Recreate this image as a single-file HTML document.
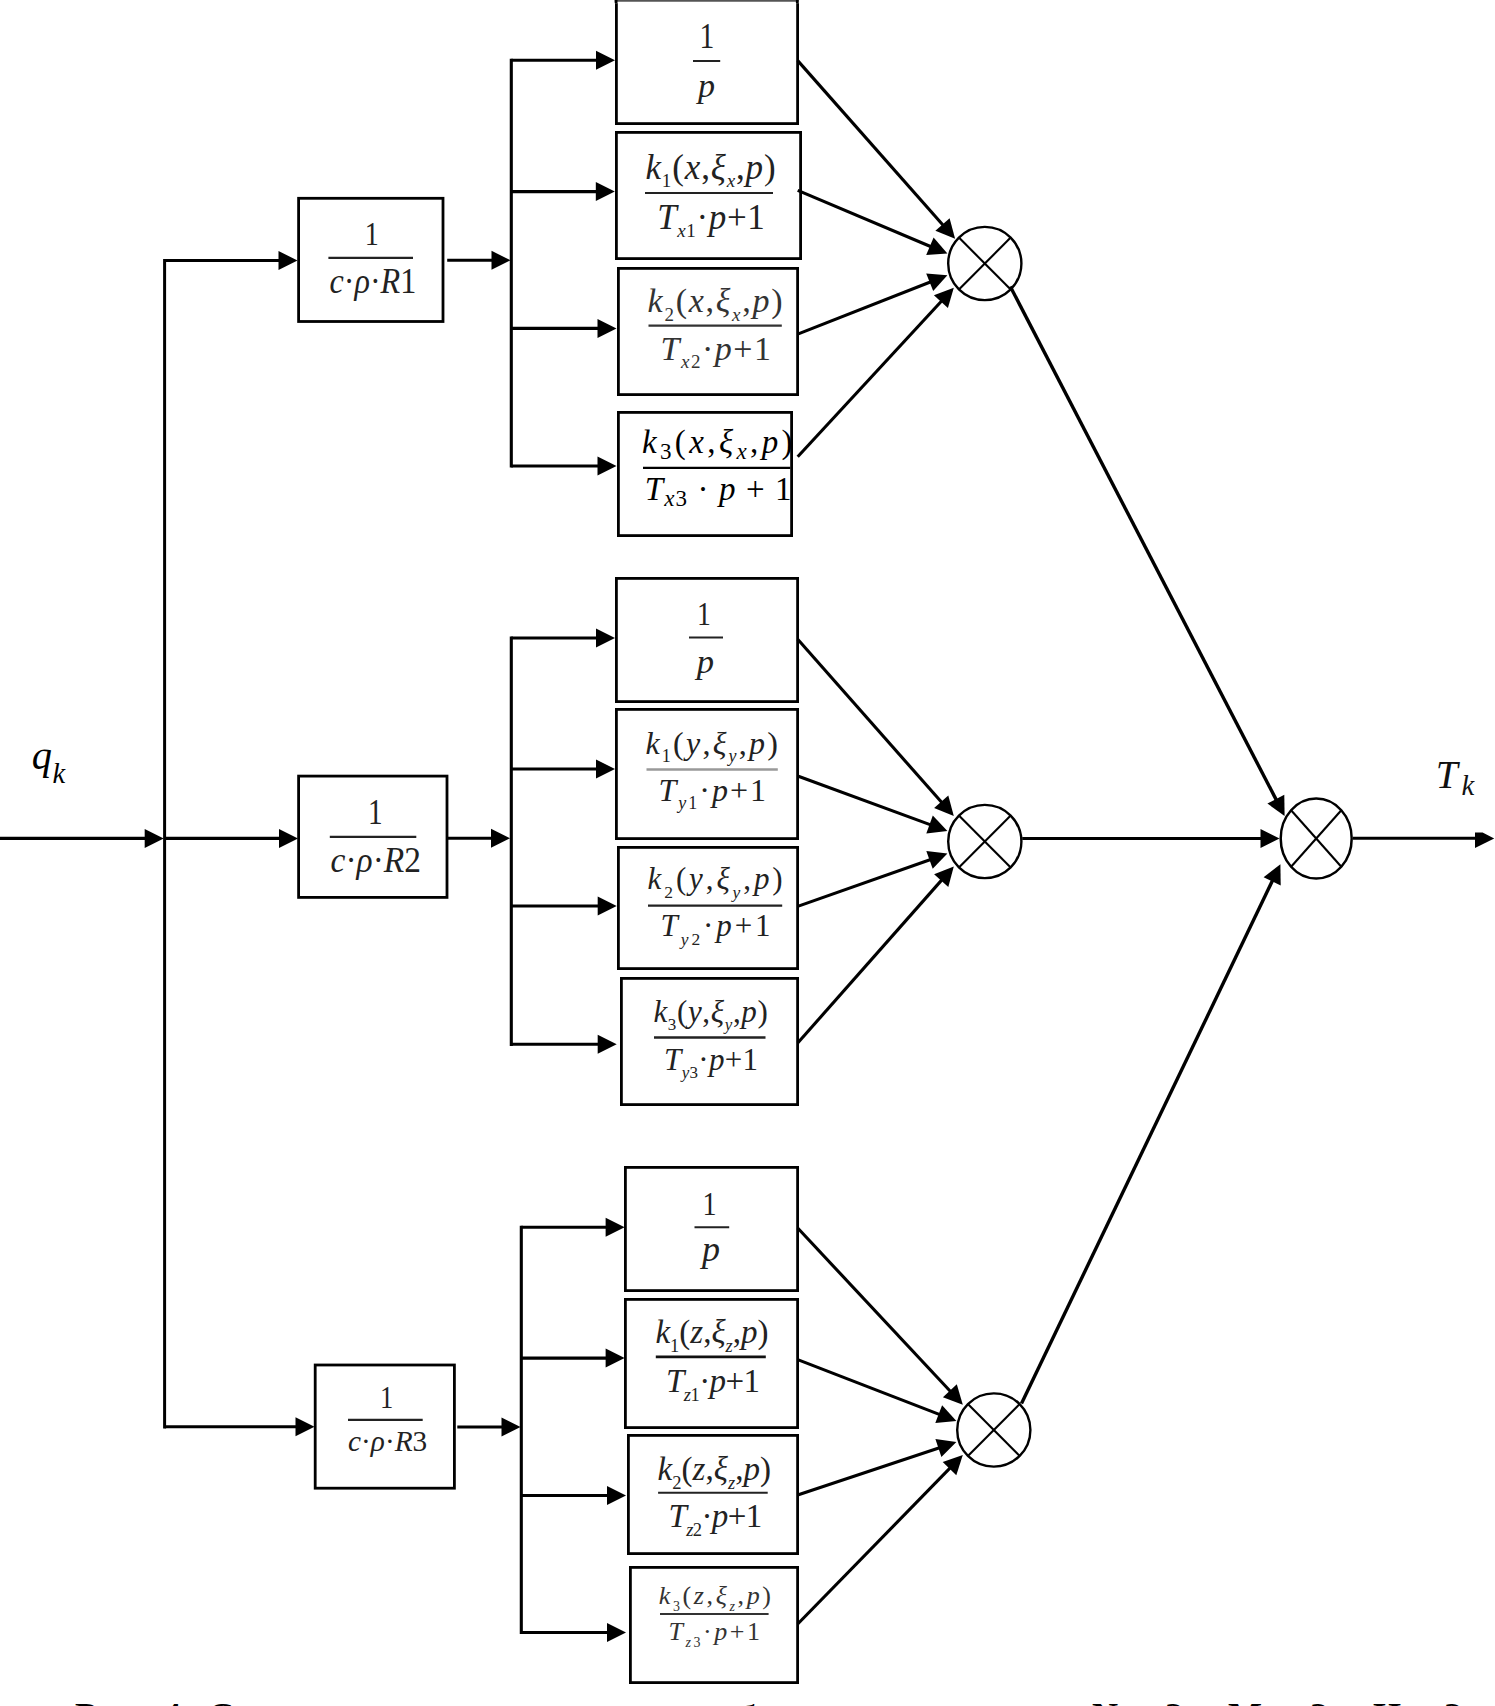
<!DOCTYPE html>
<html><head><meta charset="utf-8"><title>Block diagram</title>
<style>
html,body{margin:0;padding:0;background:#fff;}
svg{display:block;}
</style></head>
<body>
<svg width="1495" height="1706" viewBox="0 0 1495 1706" stroke="#000" fill="#000">
<rect x="0" y="0" width="1495" height="1706" fill="#fff" stroke="none"/>
<g stroke="#000" fill="#000" stroke-linecap="butt">
<line x1="0.0" y1="838.4" x2="146.7" y2="838.4" stroke-width="3.1"/>
<polygon points="163.7,838.4 144.7,847.9 144.7,828.9" stroke="none"/>
<line x1="164.6" y1="259.0" x2="164.6" y2="1428.5" stroke-width="3.0"/>
<line x1="164.6" y1="260.5" x2="280.5" y2="260.5" stroke-width="3.1"/>
<polygon points="297.5,260.5 278.5,270.0 278.5,251.0" stroke="none"/>
<line x1="164.6" y1="838.4" x2="281.0" y2="838.4" stroke-width="3.1"/>
<polygon points="298.0,838.4 279.0,847.9 279.0,828.9" stroke="none"/>
<line x1="164.6" y1="1426.7" x2="297.5" y2="1426.7" stroke-width="3.1"/>
<polygon points="314.5,1426.7 295.5,1436.2 295.5,1417.2" stroke="none"/>
<rect x="298.6" y="198.3" width="144.4" height="123.2" fill="none" stroke-width="2.8"/>
<rect x="298.6" y="776.1" width="148.4" height="121.3" fill="none" stroke-width="2.8"/>
<rect x="315.2" y="1365.0" width="139.2" height="123.2" fill="none" stroke-width="2.8"/>
<line x1="447.2" y1="260.3" x2="493.5" y2="260.3" stroke-width="3.1"/>
<polygon points="510.5,260.3 491.5,269.8 491.5,250.8" stroke="none"/>
<line x1="448.0" y1="838.3" x2="493.0" y2="838.3" stroke-width="3.1"/>
<polygon points="510.0,838.3 491.0,847.8 491.0,828.8" stroke="none"/>
<line x1="457.3" y1="1427.0" x2="503.5" y2="1427.0" stroke-width="3.1"/>
<polygon points="520.5,1427.0 501.5,1436.5 501.5,1417.5" stroke="none"/>
<text stroke="none" x="364.7" y="244.8" textLength="14.1" lengthAdjust="spacingAndGlyphs" font-family="Liberation Serif" font-size="34.5" font-style="normal" fill="#222">1</text>
<line x1="328.4" y1="257.8" x2="413.0" y2="257.8" stroke="#222" stroke-width="2.2"/>
<text stroke="none" x="329.5" y="293.0" textLength="86.8" lengthAdjust="spacingAndGlyphs" font-family="Liberation Serif" fill="#222" xml:space="preserve"><tspan font-size="35.0" font-style="italic" dy="0.0">c</tspan><tspan font-size="35.0" font-style="normal" dy="0.0">·</tspan><tspan font-size="35.0" font-style="italic" dy="0.0">ρ</tspan><tspan font-size="35.0" font-style="normal" dy="0.0">·</tspan><tspan font-size="35.0" font-style="italic" dy="0.0">R</tspan><tspan font-size="35.0" font-style="normal" dy="0.0">1</tspan></text>
<text stroke="none" x="368.0" y="823.5" textLength="14.6" lengthAdjust="spacingAndGlyphs" font-family="Liberation Serif" font-size="35.5" font-style="normal" fill="#222">1</text>
<line x1="329.8" y1="836.8" x2="416.3" y2="836.8" stroke="#222" stroke-width="2.2"/>
<text stroke="none" x="330.6" y="872.4" textLength="90.4" lengthAdjust="spacingAndGlyphs" font-family="Liberation Serif" fill="#222" xml:space="preserve"><tspan font-size="35.0" font-style="italic" dy="0.0">c</tspan><tspan font-size="35.0" font-style="normal" dy="0.0">·</tspan><tspan font-size="35.0" font-style="italic" dy="0.0">ρ</tspan><tspan font-size="35.0" font-style="normal" dy="0.0">·</tspan><tspan font-size="35.0" font-style="italic" dy="0.0">R</tspan><tspan font-size="35.0" font-style="normal" dy="0.0">2</tspan></text>
<text stroke="none" x="379.9" y="1408.3" textLength="13.3" lengthAdjust="spacingAndGlyphs" font-family="Liberation Serif" font-size="32.5" font-style="normal" fill="#222">1</text>
<line x1="348.0" y1="1419.9" x2="422.7" y2="1419.9" stroke="#222" stroke-width="2.2"/>
<text stroke="none" x="348.1" y="1451.0" textLength="79.1" lengthAdjust="spacingAndGlyphs" font-family="Liberation Serif" fill="#222" xml:space="preserve"><tspan font-size="29.5" font-style="italic" dy="0.0">c</tspan><tspan font-size="29.5" font-style="normal" dy="0.0">·</tspan><tspan font-size="29.5" font-style="italic" dy="0.0">ρ</tspan><tspan font-size="29.5" font-style="normal" dy="0.0">·</tspan><tspan font-size="29.5" font-style="italic" dy="0.0">R</tspan><tspan font-size="29.5" font-style="normal" dy="0.0">3</tspan></text>
<line x1="511.3" y1="58.7" x2="511.3" y2="467.6" stroke-width="3.1"/>
<line x1="511.3" y1="60.3" x2="598.0" y2="60.3" stroke-width="3.1"/>
<polygon points="615.0,60.3 596.0,69.8 596.0,50.8" stroke="none"/>
<line x1="511.3" y1="191.6" x2="597.8" y2="191.6" stroke-width="3.1"/>
<polygon points="614.8,191.6 595.8,201.1 595.8,182.1" stroke="none"/>
<line x1="511.3" y1="328.4" x2="599.5" y2="328.4" stroke-width="3.1"/>
<polygon points="616.5,328.4 597.5,337.9 597.5,318.9" stroke="none"/>
<line x1="511.3" y1="466.0" x2="599.5" y2="466.0" stroke-width="3.1"/>
<polygon points="616.5,466.0 597.5,475.5 597.5,456.5" stroke="none"/>
<rect x="616.4" y="1.4" width="181.2" height="122.2" fill="none" stroke-width="2.8"/>
<rect x="616.4" y="132.4" width="184.2" height="126.2" fill="none" stroke-width="2.8"/>
<rect x="618.4" y="268.4" width="179.2" height="126.2" fill="none" stroke-width="2.8"/>
<rect x="618.4" y="412.4" width="173.2" height="123.2" fill="none" stroke-width="2.8"/>
<line x1="797.7" y1="60.6" x2="943.8" y2="226.0" stroke-width="3.1"/>
<polygon points="955.1,238.7 935.4,230.8 949.6,218.2" stroke="none"/>
<line x1="797.7" y1="190.4" x2="931.7" y2="247.0" stroke-width="3.1"/>
<polygon points="947.4,253.6 926.2,255.0 933.6,237.5" stroke="none"/>
<line x1="797.7" y1="334.1" x2="931.6" y2="281.5" stroke-width="3.1"/>
<polygon points="947.4,275.3 933.2,291.1 926.2,273.4" stroke="none"/>
<line x1="797.7" y1="456.7" x2="942.3" y2="300.2" stroke-width="3.1"/>
<polygon points="953.8,287.7 947.9,308.1 933.9,295.2" stroke="none"/>
<ellipse cx="984.8" cy="263.5" rx="36.6" ry="36.6" fill="none" stroke-width="2.4"/>
<line x1="958.9" y1="237.6" x2="1010.7" y2="289.4" stroke-width="2.1"/>
<line x1="1010.7" y1="237.6" x2="958.9" y2="289.4" stroke-width="2.1"/>
<line x1="511.3" y1="636.4" x2="511.3" y2="1045.9" stroke-width="3.1"/>
<line x1="511.3" y1="638.0" x2="598.0" y2="638.0" stroke-width="3.1"/>
<polygon points="615.0,638.0 596.0,647.5 596.0,628.5" stroke="none"/>
<line x1="511.3" y1="769.0" x2="598.0" y2="769.0" stroke-width="3.1"/>
<polygon points="615.0,769.0 596.0,778.5 596.0,759.5" stroke="none"/>
<line x1="511.3" y1="906.0" x2="599.7" y2="906.0" stroke-width="3.1"/>
<polygon points="616.7,906.0 597.7,915.5 597.7,896.5" stroke="none"/>
<line x1="511.3" y1="1044.3" x2="599.7" y2="1044.3" stroke-width="3.1"/>
<polygon points="616.7,1044.3 597.7,1053.8 597.7,1034.8" stroke="none"/>
<rect x="616.4" y="578.4" width="181.2" height="123.2" fill="none" stroke-width="2.8"/>
<rect x="616.4" y="709.4" width="181.2" height="129.2" fill="none" stroke-width="2.8"/>
<rect x="618.4" y="847.4" width="179.2" height="121.2" fill="none" stroke-width="2.8"/>
<rect x="621.4" y="978.4" width="176.2" height="126.2" fill="none" stroke-width="2.8"/>
<line x1="797.7" y1="639.3" x2="942.5" y2="803.3" stroke-width="3.1"/>
<polygon points="953.8,816.0 934.1,808.1 948.3,795.5" stroke="none"/>
<line x1="797.7" y1="776.0" x2="931.4" y2="825.1" stroke-width="3.1"/>
<polygon points="947.4,831.0 926.3,833.4 932.8,815.5" stroke="none"/>
<line x1="797.7" y1="906.4" x2="931.4" y2="859.2" stroke-width="3.1"/>
<polygon points="947.4,853.5 932.7,868.8 926.3,850.9" stroke="none"/>
<line x1="797.7" y1="1043.0" x2="942.5" y2="879.1" stroke-width="3.1"/>
<polygon points="953.8,866.4 948.3,886.9 934.1,874.3" stroke="none"/>
<ellipse cx="984.8" cy="841.5" rx="36.6" ry="36.6" fill="none" stroke-width="2.4"/>
<line x1="958.9" y1="815.6" x2="1010.7" y2="867.4" stroke-width="2.1"/>
<line x1="1010.7" y1="815.6" x2="958.9" y2="867.4" stroke-width="2.1"/>
<line x1="521.3" y1="1225.7" x2="521.3" y2="1634.1" stroke-width="3.1"/>
<line x1="521.3" y1="1227.3" x2="607.6" y2="1227.3" stroke-width="3.1"/>
<polygon points="624.6,1227.3 605.6,1236.8 605.6,1217.8" stroke="none"/>
<line x1="521.3" y1="1358.1" x2="607.6" y2="1358.1" stroke-width="3.1"/>
<polygon points="624.6,1358.1 605.6,1367.6 605.6,1348.6" stroke="none"/>
<line x1="521.3" y1="1495.5" x2="609.0" y2="1495.5" stroke-width="3.1"/>
<polygon points="626.0,1495.5 607.0,1505.0 607.0,1486.0" stroke="none"/>
<line x1="521.3" y1="1632.5" x2="609.0" y2="1632.5" stroke-width="3.1"/>
<polygon points="626.0,1632.5 607.0,1642.0 607.0,1623.0" stroke="none"/>
<rect x="625.4" y="1167.4" width="172.2" height="123.2" fill="none" stroke-width="2.8"/>
<rect x="625.4" y="1299.4" width="172.2" height="128.2" fill="none" stroke-width="2.8"/>
<rect x="628.4" y="1435.4" width="169.2" height="118.2" fill="none" stroke-width="2.8"/>
<rect x="630.4" y="1567.4" width="167.2" height="115.2" fill="none" stroke-width="2.8"/>
<line x1="797.7" y1="1228.0" x2="951.2" y2="1392.3" stroke-width="3.1"/>
<polygon points="962.8,1404.7 942.9,1397.3 956.8,1384.3" stroke="none"/>
<line x1="797.7" y1="1359.6" x2="940.5" y2="1414.9" stroke-width="3.1"/>
<polygon points="956.4,1421.0 935.3,1423.0 942.1,1405.3" stroke="none"/>
<line x1="797.7" y1="1495.0" x2="940.3" y2="1447.5" stroke-width="3.1"/>
<polygon points="956.4,1442.1 941.4,1457.1 935.4,1439.1" stroke="none"/>
<line x1="797.7" y1="1624.0" x2="950.9" y2="1467.2" stroke-width="3.1"/>
<polygon points="962.8,1455.0 956.3,1475.2 942.7,1462.0" stroke="none"/>
<ellipse cx="993.8" cy="1430.0" rx="36.6" ry="36.6" fill="none" stroke-width="2.4"/>
<line x1="967.9" y1="1404.1" x2="1019.7" y2="1455.9" stroke-width="2.1"/>
<line x1="1019.7" y1="1404.1" x2="967.9" y2="1455.9" stroke-width="2.1"/>
<rect x="614" y="0" width="186" height="3.2" fill="#fff" stroke="none"/>
<line x1="614.7" y1="0.9" x2="798.7" y2="0.9" stroke="#555" stroke-width="1.8"/>
<line x1="616.1" y1="0" x2="616.1" y2="3.2" stroke-width="2.8"/>
<line x1="797.3" y1="0" x2="797.3" y2="3.2" stroke-width="2.8"/>
<text stroke="none" x="699.4" y="48.4" textLength="14.8" lengthAdjust="spacingAndGlyphs" font-family="Liberation Serif" font-size="36" font-style="normal" fill="#222">1</text>
<line x1="693.0" y1="61.0" x2="720.2" y2="61.0" stroke="#222" stroke-width="2.0"/>
<text stroke="none" x="706.4" y="97.3" text-anchor="middle" font-family="Liberation Serif" font-size="34" font-style="italic" font-weight="normal" fill="#222">p</text>
<text stroke="none" x="697.0" y="625.3" textLength="13.9" lengthAdjust="spacingAndGlyphs" font-family="Liberation Serif" font-size="34" font-style="normal" fill="#222">1</text>
<line x1="689.0" y1="637.5" x2="723.0" y2="637.5" stroke="#222" stroke-width="2.0"/>
<text stroke="none" x="705.4" y="672.6" text-anchor="middle" font-family="Liberation Serif" font-size="34.5" font-style="italic" font-weight="normal" fill="#222">p</text>
<text stroke="none" x="702.4" y="1214.8" textLength="14.1" lengthAdjust="spacingAndGlyphs" font-family="Liberation Serif" font-size="34.5" font-style="normal" fill="#222">1</text>
<line x1="694.5" y1="1227.3" x2="729.2" y2="1227.3" stroke="#222" stroke-width="2.0"/>
<text stroke="none" x="711.0" y="1261.3" text-anchor="middle" font-family="Liberation Serif" font-size="36" font-style="italic" font-weight="normal" fill="#222">p</text>
<text stroke="none" x="645.4" y="178.5" textLength="130.2" lengthAdjust="spacing" font-family="Liberation Serif" fill="#222" xml:space="preserve"><tspan font-size="35.0" font-style="italic" dy="0.0">k</tspan><tspan font-size="19.0" font-style="normal" dy="8.5">1</tspan><tspan font-size="35.0" font-style="normal" dy="-8.5">(</tspan><tspan font-size="35.0" font-style="italic" dy="0.0">x</tspan><tspan font-size="35.0" font-style="normal" dy="0.0">,</tspan><tspan font-size="35.0" font-style="italic" dy="0.0">ξ</tspan><tspan font-size="19.0" font-style="italic" dy="8.5">x</tspan><tspan font-size="35.0" font-style="normal" dy="-8.5">,</tspan><tspan font-size="35.0" font-style="italic" dy="0.0">p</tspan><tspan font-size="35.0" font-style="normal" dy="0.0">)</tspan></text>
<line x1="645.0" y1="193.0" x2="773.0" y2="193.0" stroke="#222" stroke-width="2.1"/>
<text stroke="none" x="657.2" y="228.8" textLength="107.6" lengthAdjust="spacing" font-family="Liberation Serif" fill="#222" xml:space="preserve"><tspan font-size="35.0" font-style="italic" dy="0.0">T</tspan><tspan font-size="19.0" font-style="italic" dy="8.5">x</tspan><tspan font-size="19.0" font-style="normal" dy="0.0">1</tspan><tspan font-size="35.0" font-style="normal" dy="-8.5">·</tspan><tspan font-size="35.0" font-style="italic" dy="0.0">p</tspan><tspan font-size="35.0" font-style="normal" dy="0.0">+1</tspan></text>
<text stroke="none" x="647.6" y="312.0" textLength="135.0" lengthAdjust="spacing" font-family="Liberation Serif" fill="#333" xml:space="preserve"><tspan font-size="34.0" font-style="italic" dy="0.0">k</tspan><tspan font-size="19.0" font-style="normal" dy="8.5">2</tspan><tspan font-size="34.0" font-style="normal" dy="-8.5">(</tspan><tspan font-size="34.0" font-style="italic" dy="0.0">x</tspan><tspan font-size="34.0" font-style="normal" dy="0.0">,</tspan><tspan font-size="34.0" font-style="italic" dy="0.0">ξ</tspan><tspan font-size="19.0" font-style="italic" dy="8.5">x</tspan><tspan font-size="34.0" font-style="normal" dy="-8.5">,</tspan><tspan font-size="34.0" font-style="italic" dy="0.0">p</tspan><tspan font-size="34.0" font-style="normal" dy="0.0">)</tspan></text>
<line x1="648.5" y1="325.6" x2="781.8" y2="325.6" stroke="#333" stroke-width="2.2"/>
<text stroke="none" x="660.6" y="359.7" textLength="110.4" lengthAdjust="spacing" font-family="Liberation Serif" fill="#333" xml:space="preserve"><tspan font-size="34.0" font-style="italic" dy="0.0">T</tspan><tspan font-size="19.0" font-style="italic" dy="8.5">x</tspan><tspan font-size="19.0" font-style="normal" dy="0.0">2</tspan><tspan font-size="34.0" font-style="normal" dy="-8.5">·</tspan><tspan font-size="34.0" font-style="italic" dy="0.0">p</tspan><tspan font-size="34.0" font-style="normal" dy="0.0">+1</tspan></text>
<text stroke="none" x="641.9" y="452.5" textLength="150.7" lengthAdjust="spacing" font-family="Liberation Serif" fill="#000" xml:space="preserve"><tspan font-size="33.0" font-style="italic" dy="0.0">k</tspan><tspan font-size="23.0" font-style="normal" dy="6.3">3</tspan><tspan font-size="33.0" font-style="normal" dy="-6.3">(</tspan><tspan font-size="33.0" font-style="italic" dy="0.0">x</tspan><tspan font-size="33.0" font-style="normal" dy="0.0">,</tspan><tspan font-size="33.0" font-style="italic" dy="0.0">ξ</tspan><tspan font-size="23.0" font-style="italic" dy="6.3">x</tspan><tspan font-size="33.0" font-style="normal" dy="-6.3">,</tspan><tspan font-size="33.0" font-style="italic" dy="0.0">p</tspan><tspan font-size="33.0" font-style="normal" dy="0.0">)</tspan></text>
<line x1="643.0" y1="467.8" x2="790.3" y2="467.8" stroke="#000" stroke-width="2.3"/>
<text stroke="none" x="644.8" y="499.7" textLength="146.8" lengthAdjust="spacing" font-family="Liberation Serif" fill="#000" xml:space="preserve"><tspan font-size="33.0" font-style="italic" dy="0.0">T</tspan><tspan font-size="23.0" font-style="italic" dy="6.3">x</tspan><tspan font-size="23.0" font-style="normal" dy="0.0">3</tspan><tspan font-size="33.0" font-style="normal" dy="-6.3"> · </tspan><tspan font-size="33.0" font-style="italic" dy="0.0">p</tspan><tspan font-size="33.0" font-style="normal" dy="0.0"> + 1</tspan></text>
<text stroke="none" x="645.4" y="753.5" textLength="132.6" lengthAdjust="spacing" font-family="Liberation Serif" fill="#222" xml:space="preserve"><tspan font-size="32.0" font-style="italic" dy="0.0">k</tspan><tspan font-size="18.0" font-style="normal" dy="8.0">1</tspan><tspan font-size="32.0" font-style="normal" dy="-8.0">(</tspan><tspan font-size="32.0" font-style="italic" dy="0.0">y</tspan><tspan font-size="32.0" font-style="normal" dy="0.0">,</tspan><tspan font-size="32.0" font-style="italic" dy="0.0">ξ</tspan><tspan font-size="18.0" font-style="italic" dy="8.0">y</tspan><tspan font-size="32.0" font-style="normal" dy="-8.0">,</tspan><tspan font-size="32.0" font-style="italic" dy="0.0">p</tspan><tspan font-size="32.0" font-style="normal" dy="0.0">)</tspan></text>
<line x1="646.5" y1="769.5" x2="777.8" y2="769.5" stroke="#999" stroke-width="2.4"/>
<text stroke="none" x="658.4" y="800.7" textLength="107.6" lengthAdjust="spacing" font-family="Liberation Serif" fill="#222" xml:space="preserve"><tspan font-size="32.0" font-style="italic" dy="0.0">T</tspan><tspan font-size="18.0" font-style="italic" dy="8.0">y</tspan><tspan font-size="18.0" font-style="normal" dy="0.0">1</tspan><tspan font-size="32.0" font-style="normal" dy="-8.0">·</tspan><tspan font-size="32.0" font-style="italic" dy="0.0">p</tspan><tspan font-size="32.0" font-style="normal" dy="0.0">+1</tspan></text>
<text stroke="none" x="647.6" y="889.1" textLength="135.0" lengthAdjust="spacing" font-family="Liberation Serif" fill="#222" xml:space="preserve"><tspan font-size="31.0" font-style="italic" dy="0.0">k</tspan><tspan font-size="17.5" font-style="normal" dy="8.5">2</tspan><tspan font-size="31.0" font-style="normal" dy="-8.5">(</tspan><tspan font-size="31.0" font-style="italic" dy="0.0">y</tspan><tspan font-size="31.0" font-style="normal" dy="0.0">,</tspan><tspan font-size="31.0" font-style="italic" dy="0.0">ξ</tspan><tspan font-size="17.5" font-style="italic" dy="8.5">y</tspan><tspan font-size="31.0" font-style="normal" dy="-8.5">,</tspan><tspan font-size="31.0" font-style="italic" dy="0.0">p</tspan><tspan font-size="31.0" font-style="normal" dy="0.0">)</tspan></text>
<line x1="648.0" y1="905.6" x2="782.2" y2="905.6" stroke="#222" stroke-width="2.2"/>
<text stroke="none" x="660.6" y="936.3" textLength="109.9" lengthAdjust="spacing" font-family="Liberation Serif" fill="#222" xml:space="preserve"><tspan font-size="31.0" font-style="italic" dy="0.0">T</tspan><tspan font-size="17.5" font-style="italic" dy="8.5">y</tspan><tspan font-size="17.5" font-style="normal" dy="0.0">2</tspan><tspan font-size="31.0" font-style="normal" dy="-8.5">·</tspan><tspan font-size="31.0" font-style="italic" dy="0.0">p</tspan><tspan font-size="31.0" font-style="normal" dy="0.0">+1</tspan></text>
<text stroke="none" x="653.4" y="1022.3" textLength="114.4" lengthAdjust="spacing" font-family="Liberation Serif" fill="#222" xml:space="preserve"><tspan font-size="31.0" font-style="italic" dy="0.0">k</tspan><tspan font-size="17.0" font-style="normal" dy="8.0">3</tspan><tspan font-size="31.0" font-style="normal" dy="-8.0">(</tspan><tspan font-size="31.0" font-style="italic" dy="0.0">y</tspan><tspan font-size="31.0" font-style="normal" dy="0.0">,</tspan><tspan font-size="31.0" font-style="italic" dy="0.0">ξ</tspan><tspan font-size="17.0" font-style="italic" dy="8.0">y</tspan><tspan font-size="31.0" font-style="normal" dy="-8.0">,</tspan><tspan font-size="31.0" font-style="italic" dy="0.0">p</tspan><tspan font-size="31.0" font-style="normal" dy="0.0">)</tspan></text>
<line x1="654.0" y1="1037.5" x2="765.5" y2="1037.5" stroke="#222" stroke-width="2.4"/>
<text stroke="none" x="664.1" y="1069.6" textLength="93.9" lengthAdjust="spacing" font-family="Liberation Serif" fill="#222" xml:space="preserve"><tspan font-size="31.0" font-style="italic" dy="0.0">T</tspan><tspan font-size="17.0" font-style="italic" dy="8.0">y</tspan><tspan font-size="17.0" font-style="normal" dy="0.0">3</tspan><tspan font-size="31.0" font-style="normal" dy="-8.0">·</tspan><tspan font-size="31.0" font-style="italic" dy="0.0">p</tspan><tspan font-size="31.0" font-style="normal" dy="0.0">+1</tspan></text>
<text stroke="none" x="655.4" y="1343.2" textLength="113.2" lengthAdjust="spacing" font-family="Liberation Serif" fill="#222" xml:space="preserve"><tspan font-size="33.0" font-style="italic" dy="0.0">k</tspan><tspan font-size="18.5" font-style="normal" dy="9.0">1</tspan><tspan font-size="33.0" font-style="normal" dy="-9.0">(</tspan><tspan font-size="33.0" font-style="italic" dy="0.0">z</tspan><tspan font-size="33.0" font-style="normal" dy="0.0">,</tspan><tspan font-size="33.0" font-style="italic" dy="0.0">ξ</tspan><tspan font-size="18.5" font-style="italic" dy="9.0">z</tspan><tspan font-size="33.0" font-style="normal" dy="-9.0">,</tspan><tspan font-size="33.0" font-style="italic" dy="0.0">p</tspan><tspan font-size="33.0" font-style="normal" dy="0.0">)</tspan></text>
<line x1="655.8" y1="1356.8" x2="765.8" y2="1356.8" stroke="#111" stroke-width="2.8"/>
<text stroke="none" x="666.1" y="1391.5" textLength="93.9" lengthAdjust="spacing" font-family="Liberation Serif" fill="#222" xml:space="preserve"><tspan font-size="33.0" font-style="italic" dy="0.0">T</tspan><tspan font-size="18.5" font-style="italic" dy="9.0">z</tspan><tspan font-size="18.5" font-style="normal" dy="0.0">1</tspan><tspan font-size="33.0" font-style="normal" dy="-9.0">·</tspan><tspan font-size="33.0" font-style="italic" dy="0.0">p</tspan><tspan font-size="33.0" font-style="normal" dy="0.0">+1</tspan></text>
<text stroke="none" x="657.6" y="1479.6" textLength="113.4" lengthAdjust="spacing" font-family="Liberation Serif" fill="#222" xml:space="preserve"><tspan font-size="33.0" font-style="italic" dy="0.0">k</tspan><tspan font-size="18.5" font-style="normal" dy="9.0">2</tspan><tspan font-size="33.0" font-style="normal" dy="-9.0">(</tspan><tspan font-size="33.0" font-style="italic" dy="0.0">z</tspan><tspan font-size="33.0" font-style="normal" dy="0.0">,</tspan><tspan font-size="33.0" font-style="italic" dy="0.0">ξ</tspan><tspan font-size="18.5" font-style="italic" dy="9.0">z</tspan><tspan font-size="33.0" font-style="normal" dy="-9.0">,</tspan><tspan font-size="33.0" font-style="italic" dy="0.0">p</tspan><tspan font-size="33.0" font-style="normal" dy="0.0">)</tspan></text>
<line x1="658.1" y1="1492.8" x2="767.7" y2="1492.8" stroke="#222" stroke-width="2.0"/>
<text stroke="none" x="668.4" y="1526.5" textLength="93.9" lengthAdjust="spacing" font-family="Liberation Serif" fill="#222" xml:space="preserve"><tspan font-size="33.0" font-style="italic" dy="0.0">T</tspan><tspan font-size="18.5" font-style="italic" dy="9.0">z</tspan><tspan font-size="18.5" font-style="normal" dy="0.0">2</tspan><tspan font-size="33.0" font-style="normal" dy="-9.0">·</tspan><tspan font-size="33.0" font-style="italic" dy="0.0">p</tspan><tspan font-size="33.0" font-style="normal" dy="0.0">+1</tspan></text>
<text stroke="none" x="658.7" y="1604.0" textLength="112.3" lengthAdjust="spacing" font-family="Liberation Serif" fill="#333" xml:space="preserve"><tspan font-size="26.0" font-style="italic" dy="0.0">k</tspan><tspan font-size="14.0" font-style="normal" dy="7.0">3</tspan><tspan font-size="26.0" font-style="normal" dy="-7.0">(</tspan><tspan font-size="26.0" font-style="italic" dy="0.0">z</tspan><tspan font-size="26.0" font-style="normal" dy="0.0">,</tspan><tspan font-size="26.0" font-style="italic" dy="0.0">ξ</tspan><tspan font-size="14.0" font-style="italic" dy="7.0">z</tspan><tspan font-size="26.0" font-style="normal" dy="-7.0">,</tspan><tspan font-size="26.0" font-style="italic" dy="0.0">p</tspan><tspan font-size="26.0" font-style="normal" dy="0.0">)</tspan></text>
<line x1="660.0" y1="1613.9" x2="768.6" y2="1613.9" stroke="#333" stroke-width="2.0"/>
<text stroke="none" x="668.4" y="1639.6" textLength="91.6" lengthAdjust="spacing" font-family="Liberation Serif" fill="#333" xml:space="preserve"><tspan font-size="26.0" font-style="italic" dy="0.0">T</tspan><tspan font-size="14.0" font-style="italic" dy="7.0">z</tspan><tspan font-size="14.0" font-style="normal" dy="0.0">3</tspan><tspan font-size="26.0" font-style="normal" dy="-7.0">·</tspan><tspan font-size="26.0" font-style="italic" dy="0.0">p</tspan><tspan font-size="26.0" font-style="normal" dy="0.0">+1</tspan></text>
<ellipse cx="1316.2" cy="838.5" rx="35.5" ry="40.0" fill="none" stroke-width="2.5"/>
<line x1="1291.1" y1="810.2" x2="1341.3" y2="866.8" stroke-width="2.1"/>
<line x1="1341.3" y1="810.2" x2="1291.1" y2="866.8" stroke-width="2.1"/>
<line x1="1010.3" y1="286.5" x2="1276.8" y2="800.9" stroke-width="3.4"/>
<polygon points="1284.6,816.0 1267.4,803.5 1284.3,794.8" stroke="none"/>
<line x1="1022.2" y1="838.5" x2="1262.5" y2="838.5" stroke-width="3.1"/>
<polygon points="1279.5,838.5 1260.5,848.0 1260.5,829.0" stroke="none"/>
<line x1="1021.5" y1="1403.4" x2="1273.0" y2="879.6" stroke-width="3.4"/>
<polygon points="1280.4,864.3 1280.7,885.5 1263.6,877.3" stroke="none"/>
<line x1="1353.0" y1="838.3" x2="1477.0" y2="838.3" stroke-width="3.1"/>
<polygon points="1475,832.6 1482.6,832.6 1494.2,838.6 1475,848.1" stroke="none"/>
<text stroke="none" x="31.8" y="768.8" font-family="Liberation Serif" font-style="italic" font-size="40.4" fill="#000">q</text>
<text stroke="none" x="52.4" y="782.6" font-family="Liberation Serif" font-style="italic" font-size="28.5" fill="#000">k</text>
<text stroke="none" x="1435.7" y="787.6" font-family="Liberation Serif" font-style="italic" font-size="39.4" fill="#111">T</text>
<text stroke="none" x="1461.5" y="795.2" font-family="Liberation Serif" font-style="italic" font-size="28.7" fill="#111">k</text>
<text stroke="none" x="75" y="1728.3" font-family="Liberation Serif" font-weight="bold" font-size="36" fill="#000">Р</text>
<text stroke="none" x="163" y="1728.3" font-family="Liberation Serif" font-weight="bold" font-size="36" fill="#000">4</text>
<text stroke="none" x="208" y="1728.3" font-family="Liberation Serif" font-weight="bold" font-size="36" fill="#000">С</text>
<text stroke="none" x="738" y="1730.3" font-family="Liberation Serif" font-weight="bold" font-size="36" fill="#000">б</text>
<text stroke="none" x="1092" y="1728.3" font-family="Liberation Serif" font-weight="bold" font-size="36" fill="#000">N</text>
<text stroke="none" x="1165" y="1728.3" font-family="Liberation Serif" font-weight="bold" font-size="36" fill="#000">2</text>
<text stroke="none" x="1228" y="1728.3" font-family="Liberation Serif" font-weight="bold" font-size="36" fill="#000">M</text>
<text stroke="none" x="1310" y="1728.3" font-family="Liberation Serif" font-weight="bold" font-size="36" fill="#000">2</text>
<text stroke="none" x="1373" y="1728.3" font-family="Liberation Serif" font-weight="bold" font-size="36" fill="#000">H</text>
<text stroke="none" x="1444" y="1728.3" font-family="Liberation Serif" font-weight="bold" font-size="36" fill="#000">2</text>
</g>
</svg>
</body></html>
